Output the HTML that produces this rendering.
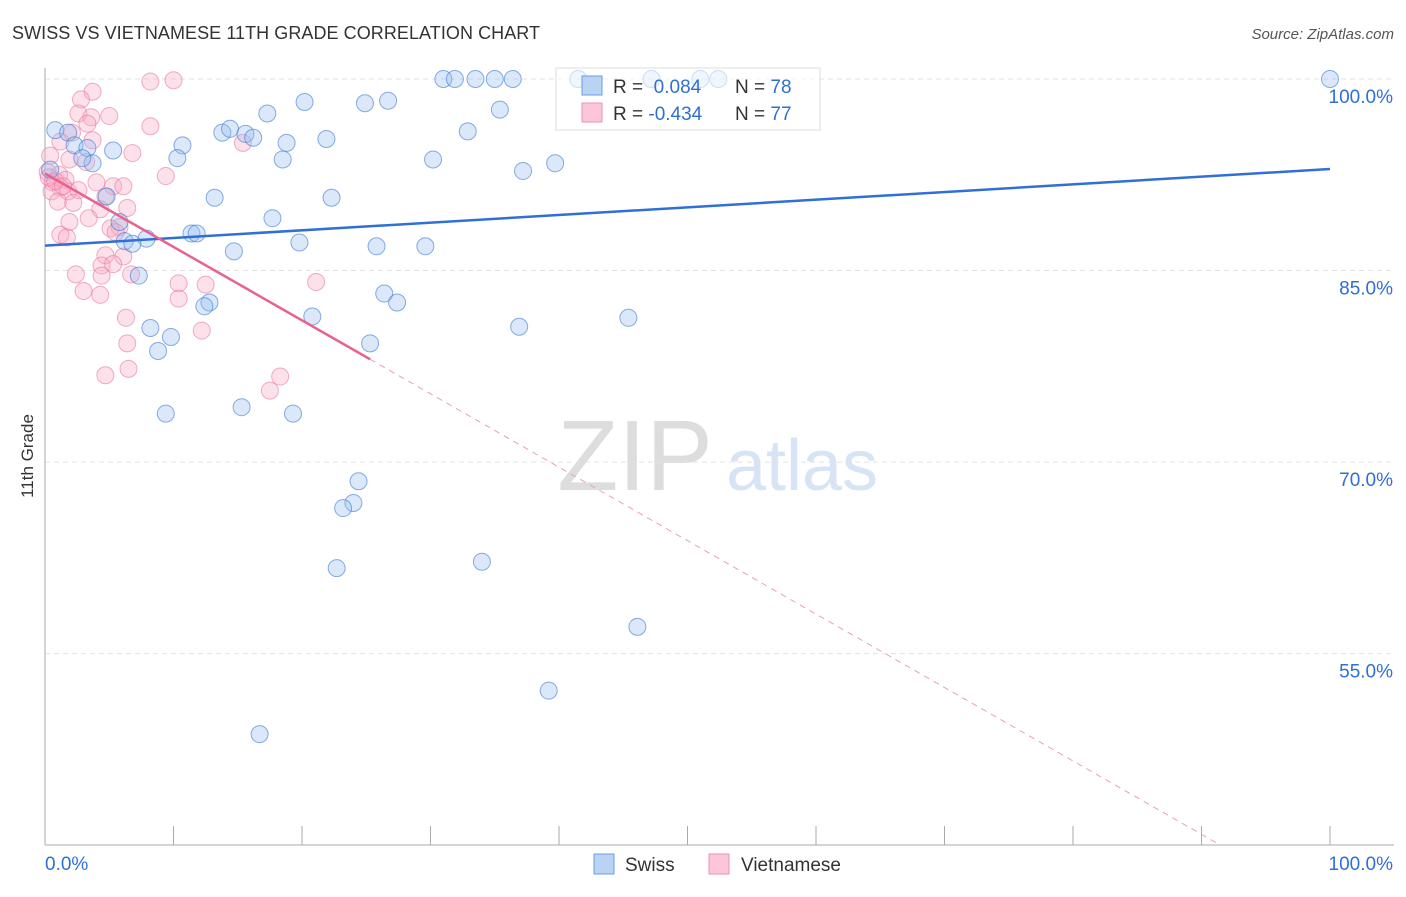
<!DOCTYPE html>
<html><head><meta charset="utf-8"><style>
body{margin:0;background:#fff;font-family:"Liberation Sans",sans-serif;}
svg text{font-family:"Liberation Sans",sans-serif;}
</style></head><body>
<svg id="c" width="1406" height="892">
<text x="12" y="39" font-size="18" fill="#333" textLength="528">SWISS VS VIETNAMESE 11TH GRADE CORRELATION CHART</text>
<text x="1394" y="39" font-size="15" fill="#555" font-style="italic" text-anchor="end">Source: ZipAtlas.com</text>
<text x="33" y="456" font-size="17" fill="#333" transform="rotate(-90 33 456)" text-anchor="middle">11th Grade</text>
<text x="635" y="490" font-size="100" fill="#ddd" font-family="Liberation Serif" text-anchor="middle">ZIP</text>
<text x="802" y="490" font-size="72" fill="#d6e4f5" text-anchor="middle">atlas</text>
<g id="grid"></g><g id="pts"></g><g id="lines"></g>
<g>
<rect x="556" y="68" width="264" height="62" fill="rgba(255,255,255,0.6)" stroke="#ddd"/>
<rect x="582" y="76" width="20" height="19" fill="#b9d3f3" stroke="#6a9be0"/>
<rect x="582" y="103" width="20" height="19" fill="#fbc6d6" stroke="#ee93b0"/>
<text x="613" y="93" font-size="19" fill="#333">R = <tspan fill="#2f6fd6">&#160;0.084</tspan><tspan x="735">N = </tspan><tspan fill="#2f6fd6">78</tspan></text>
<text x="613" y="120" font-size="19" fill="#333">R = <tspan fill="#2f6fd6">-0.434</tspan><tspan x="735">N = </tspan><tspan fill="#2f6fd6">77</tspan></text>
</g>
<g>
<rect x="594" y="854" width="20" height="20" fill="#b9d3f3" stroke="#6a9be0"/>
<text x="625" y="871" font-size="19" fill="#333">Swiss</text>
<rect x="709" y="854" width="20" height="20" fill="#fbc6d6" stroke="#ee93b0"/>
<text x="741" y="871" font-size="19" fill="#333">Vietnamese</text>
</g>
</svg>
<script>
const yTicks=[100,85,70,55];
const yTickLabels=["100.0%","85.0%","70.0%","55.0%"];
const xTickVals=[0,10,20,30,40,50,60,70,80,90,100];
const swissX=[100,31,31.9,33.5,35,36.4,41.5,47.2,51,52.4,20.2,24.9,26.7,17.3,35.4,0.8,1.8,13.8,14.4,15.6,16.2,21.9,32.9,18.8,2.3,5.3,10.7,3.3,10.3,18.5,30.2,39.7,3.7,2.9,37.2,0.4,13.2,22.3,4.8,17.7,5.8,11.4,11.8,7.9,6.2,6.8,19.8,25.8,29.6,14.7,7.3,26.4,27.4,12.8,12.4,20.8,45.4,36.9,8.2,9.8,25.3,8.8,15.3,9.4,19.3,24.4,24.0,23.2,22.7,34,46.1,39.2,16.7];
const swissY=[100,100,100,100,100,100,100,100,100,100,98.2,98.1,98.3,97.3,97.6,96,95.8,95.8,96.1,95.7,95.4,95.3,95.9,95,94.8,94.4,94.8,94.6,93.8,93.7,93.7,93.4,93.4,93.8,92.8,92.9,90.7,90.7,90.8,89.1,88.8,87.9,87.9,87.5,87.3,87.1,87.2,86.9,86.9,86.5,84.6,83.2,82.5,82.5,82.2,81.4,81.3,80.6,80.5,79.8,79.3,78.7,74.3,73.8,73.8,68.5,66.8,66.4,61.7,62.2,57.1,52.1,48.7];
const vietX=[8.2,10,3.7,2.8,2.6,5,3.6,3.3,8.2,2.1,1.2,3.7,15.4,6.8,0.4,1.9,3.2,9.4,0.2,1.1,1.6,0.6,1.2,1.8,0.5,4,5.3,6.1,2.6,4.7,1,2.2,4.3,6.4,3.4,1.9,5.8,5.1,5.5,1.2,1.7,4.7,6.1,4.4,5.3,2.4,4.4,6.7,10.4,12.5,21.1,3,4.3,10.4,6.3,12.2,6.4,4.7,6.5,18.3,17.5,0.3,0.8,1.4];
const vietY=[99.8,99.9,99,98.4,97.3,97.1,97,96.5,96.3,95.8,95.1,95.2,95,94.2,94,93.7,93.5,92.4,92.7,92.5,92.1,91.9,91.5,91.2,91.2,91.9,91.6,91.6,91.3,90.8,90.4,90.3,89.8,89.9,89.1,88.8,88.4,88.3,88,87.8,87.6,86.2,86.1,85.4,85.5,84.7,84.6,84.7,84,83.9,84.1,83.4,83.1,82.8,81.3,80.3,79.3,76.8,77.3,76.7,75.6,92.3,92.0,91.6];
const swissTrend=[86.95,92.95];
const vietTrend=[92.6,-0.575];
const X=v=>45+v*12.85, Y=v=>79+(100-v)*12.77;
const NS="http://www.w3.org/2000/svg";
function mk(t,a,p){const e=document.createElementNS(NS,t);for(const k in a)e.setAttribute(k,a[k]);p.appendChild(e);return e;}
const g=document.getElementById('grid');
yTicks.forEach((v,i)=>{
 const l=mk('line',{x1:45,x2:1394,y1:Y(v),y2:Y(v),stroke:'#e2e2e2','stroke-dasharray':'5,4'},g);
 
 
 const t=mk('text',{x:1393,y:Y(v)+24,'font-size':19,fill:'#2f6fd6','text-anchor':'end'},g);t.textContent=yTickLabels[i];
 
 
});
const ax=mk('line',{x1:45,x2:45,y1:68,y2:845,stroke:'#aaa'},g);


const bx=mk('line',{x1:45,x2:1394,y1:845,y2:845,stroke:'#aaa'},g);


xTickVals.forEach(v=>{const t=mk('line',{x1:X(v),x2:X(v),y1:826,y2:845,stroke:'#aaa'},g);
 
 });
[[0,"0.0%",'start',45],[100,"100.0%",'end',1393]].forEach(a=>{const t=mk('text',{x:a[3],y:870,'font-size':19,fill:'#2f6fd6','text-anchor':a[2]},g);t.textContent=a[1];
 
 });
const p=document.getElementById('pts');
vietX.forEach((x,i)=>{const c=mk('circle',{cx:X(x),cy:Y(vietY[i]),r:8.5,fill:'rgba(248,170,195,0.35)',stroke:'rgba(232,120,160,0.6)'},p);
 
 });
swissX.forEach((x,i)=>{const c=mk('circle',{cx:X(x),cy:Y(swissY[i]),r:8.5,fill:'rgba(150,190,240,0.35)',stroke:'rgba(60,120,210,0.6)'},p);
 
 });
const L=document.getElementById('lines');
const bl=mk('line',{x1:X(0),y1:Y(swissTrend[0]),x2:X(100),y2:Y(swissTrend[1]),stroke:'#2f6fd6','stroke-width':2.5},L);


const vf=x=>vietTrend[0]+vietTrend[1]*x;
const xe=(vietTrend[0]-40)/-vietTrend[1];
const pl=mk('line',{x1:X(0),y1:Y(vf(0)),x2:X(25.3),y2:Y(vf(25.3)),stroke:'#e8628f','stroke-width':2.5},L);


const pd=mk('line',{x1:X(25.3),y1:Y(vf(25.3)),x2:X(xe),y2:Y(40),stroke:'#e8a0b8','stroke-width':1,'stroke-dasharray':'6,5'},L);


</script>
</body></html>
